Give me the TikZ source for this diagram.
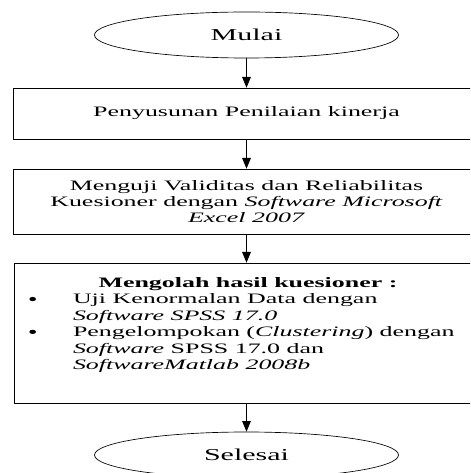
\documentclass[tikz,border=0pt]{standalone}
\usepackage{fontspec}
\setmainfont{Liberation Serif}[FakeStretch=1.8]
\usetikzlibrary{arrows.meta,shapes.geometric,positioning}
\tikzset{
  terminal/.style={ellipse,draw,line width=0.5pt,minimum width=228pt,minimum height=34.5pt,inner sep=0pt,font=\fontsize{12.5}{13}\selectfont},
  prosesbox/.style={draw,line width=0.5pt,minimum width=350pt,align=center,inner sep=0pt},
  alur/.style={-{Triangle[length=8pt,width=6.5pt]},line width=0.6pt}
}
\newcommand{\butir}{\makebox[33.75pt][l]{\hspace*{1pt}\raisebox{3.6pt}{\tikz[baseline]\fill (0,0) ellipse [x radius=2.5pt,y radius=1.6pt];}}}
\newcommand{\sisip}{\hspace*{33.75pt}}

\begin{document}
\begin{tikzpicture}[x=0.75pt,y=-0.75pt,font=\fontsize{10.8}{12.3}\selectfont]
  \useasboundingbox (0,0) rectangle (470,473);
  \clip (0,0) rectangle (470,473);
  \node[terminal] (mulai) at (246.5,35) {Mulai};
  \node[prosesbox,minimum height=38.25pt] (susun) at (246.5,113.5) {Penyusunan Penilaian kinerja};
  \node[prosesbox,minimum height=48.75pt] (uji) at (246.5,201.5)
    {Menguji Validitas dan Reliabilitas\\ Kuesioner dengan \textit{Software Microsoft}\\ \textit{Excel 2007}};
  \node[prosesbox,minimum height=105pt,text width=330pt,align=none] (olah) at (248,333)
    {{\centering\textbf{Mengolah hasil kuesioner :}\par}
     \raggedright
     \butir Uji Kenormalan Data dengan\\
     \sisip\textit{Software SPSS 17.0}\\
     \butir Pengelompokan (\textit{Clustering}) dengan\\
     \sisip\textit{Software} SPSS 17.0 dan\\
     \sisip\textit{SoftwareMatlab 2008b}\par
     \kern 12pt};
  \node[terminal] (selesai) at (246.5,455) {Selesai};
  % alur proses
  \draw[alur] (mulai) -- (susun);
  \draw[alur] (susun) -- (uji);
  \draw[alur] (uji.south) -- (uji.south |- olah.north);
  \draw[alur] (uji.south |- olah.south) -- (selesai);
\end{tikzpicture}
\end{document}
